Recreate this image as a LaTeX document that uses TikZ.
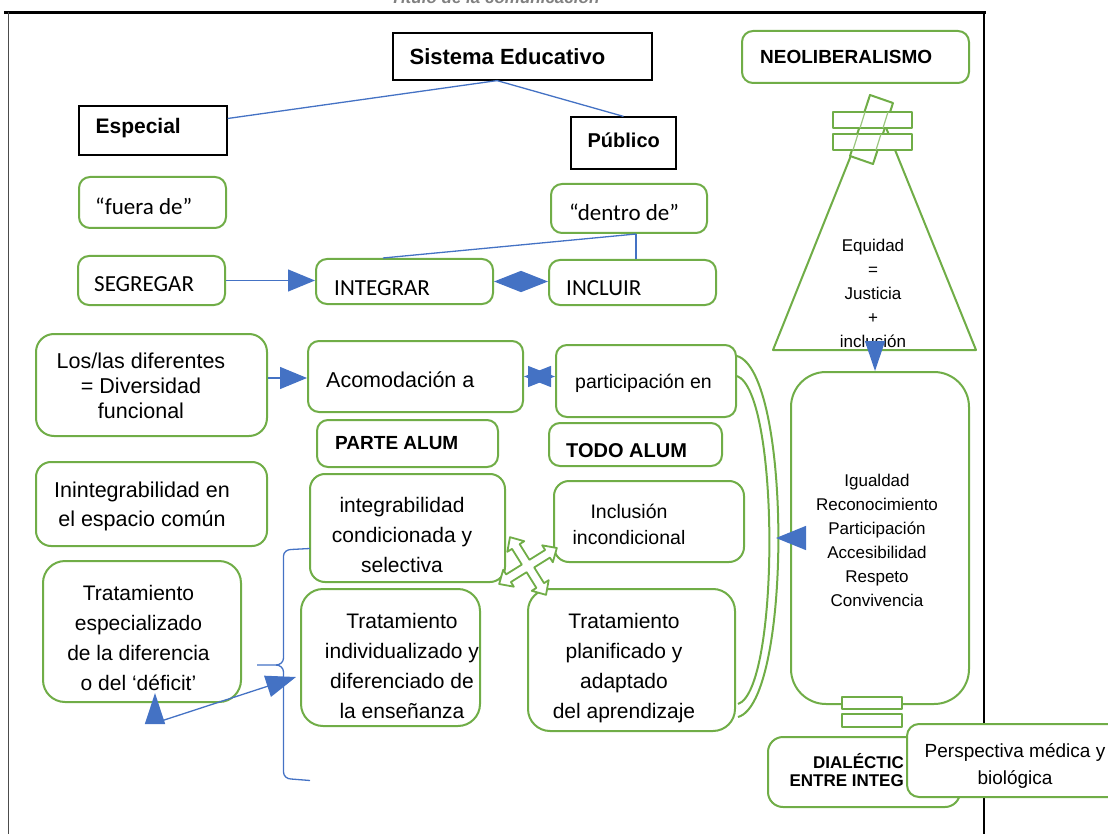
\documentclass[tikz,border=0pt]{standalone}
\usepackage{fontspec}
\setmainfont{Liberation Sans}
\newfontfamily\calib{Carlito}
\usetikzlibrary{arrows.meta}
\definecolor{gline}{HTML}{70AD47}
\definecolor{bluel}{HTML}{4472C4}
\newcommand\fsz[2]{\fontsize{#1pt}{#2pt}\selectfont}
\tikzset{
  gbox/.style={draw=gline, line width=2pt, fill=white, rounded corners=11pt, inner sep=0pt},
  kbox/.style={draw=black, line width=1.2pt, fill=white, inner sep=0pt},
  lt/.style={anchor=west, inner sep=0pt},
  ct/.style={align=center, inner sep=0pt},
  gshape/.style={draw=gline, line width=2pt, fill=white, line join=round},
  bline/.style={draw=bluel, line width=1.3pt},
  barrow/.style={bline, -{Triangle[length=27pt,width=22pt]}},
  dbarrow/.style={bline, {Triangle[length=27pt,width=21pt]}-{Triangle[length=27pt,width=21pt]}}
}

\begin{document}
\begin{tikzpicture}[x=1pt,y=-1pt]
\useasboundingbox (0,0) rectangle (1108,834);
\clip (0,0) rectangle (1108,834);

\node[font=\fsz{17}{20}\bfseries\itshape, text=gray, anchor=base] (titulo) at (495,4) {Título de la comunicación};
\draw[line width=2.4pt] (4,12.5) -- (986,12.5);
\draw[line width=1.3pt, black!70] (8.5,12) -- (8.5,834);
\draw[line width=1.3pt] (984,12) -- (984,834);

% sistema educativo
\node[kbox, minimum width=259, minimum height=47, label={[lt, xshift=17pt, font=\fsz{22}{26}\bfseries]west:{Sistema Educativo}}] (sist) at (522.5,56.5) {};
\node[kbox, minimum width=148, minimum height=49, label={[lt, xshift=17pt, yshift=2pt, font=\fsz{21}{25}\bfseries]west:{Especial}}] (esp) at (153,130.5) {};
\node[kbox, minimum width=105, minimum height=52, label={[lt, xshift=17pt, yshift=3pt, font=\fsz{20}{24}\bfseries]west:{Público}}] (pub) at (623.5,143) {};
\coordinate (sisfoot) at ([xshift=-25.5pt]sist.south);
\draw[bline] (sisfoot) -- ([yshift=12pt]esp.east);
\draw[bline] (sisfoot) -- (pub.north);

\node[gbox, minimum width=227, minimum height=52, label={[lt, xshift=19pt, font=\fsz{19}{23}\bfseries]west:{NEOLIBERALISMO}}] (neo) at (855.5,57) {};

\node[gbox, minimum width=147, minimum height=51, label={[lt, xshift=17pt, yshift=-4pt, font=\fsz{23}{27}\calib]west:{“fuera de”}}] (fuera) at (152.5,202.5) {};
\node[gbox, minimum width=156, minimum height=49, label={[lt, xshift=19pt, yshift=-4pt, font=\fsz{23}{27}\calib]west:{“dentro de”}}] (dentro) at (629,208.5) {};
\node[gbox, minimum width=147, minimum height=49, label={[lt, xshift=17pt, yshift=-4pt, font=\fsz{23}{27}\calib]west:{SEGREGAR}}] (segr) at (151.5,280.5) {};
\node[gbox, minimum width=177, minimum height=45, label={[lt, xshift=19pt, yshift=-7pt, font=\fsz{23}{27}\calib]west:{INTEGRAR}}] (integ) at (404.5,281.5) {};
\node[gbox, minimum width=167, minimum height=45, label={[lt, xshift=18pt, yshift=-6pt, font=\fsz{23}{27}\calib]west:{INCLUIR}}] (incl) at (632.5,282.5) {};
\coordinate (dfoot) at ([xshift=7pt]dentro.south);
\draw[bline] (dfoot) -- (dfoot |- incl.north);
\draw[bline] (dfoot) -- ([xshift=-21.5pt]integ.north);
\draw[barrow] (segr.east) -- (segr.east -| integ.west);
\draw[dbarrow] (integ.east) -- (integ.east -| incl.west);

\node[gbox, rounded corners=18pt, minimum width=231, minimum height=102, label={[ct, xshift=-10.5pt, yshift=-1pt, font=\fsz{21.5}{25}]center:{Los/las diferentes\\= Diversidad\\funcional}}] (losl) at (151.5,385) {};
\node[gbox, minimum width=215, minimum height=71, label={[lt, xshift=19pt, yshift=-3pt, font=\fsz{21.5}{25}]west:{Acomodación a}}] (acom) at (415.5,376.5) {};
\node[gbox, minimum width=180, minimum height=72, label={[lt, xshift=20pt, yshift=-2pt, font=\fsz{19.5}{23}]west:{participación en}}] (part) at (646,381) {};
\draw[barrow] ([yshift=7pt]losl.east) -- ([yshift=7pt]losl.east -| acom.west);
\draw[dbarrow] (acom.east) -- (acom.east -| part.west);

\node[gbox, minimum width=181, minimum height=47, label={[lt, xshift=19pt, font=\fsz{19}{23}\bfseries]west:{PARTE ALUM}}] (parte) at (407.5,443.5) {};
\node[gbox, minimum width=173, minimum height=43, label={[lt, xshift=18pt, yshift=-6pt, font=\fsz{20}{24}\bfseries]west:{TODO ALUM}}] (todo) at (635.5,444.5) {};

\node[gbox, rounded corners=15pt, minimum width=231, minimum height=84, label={[ct, xshift=-9.5pt, yshift=-2pt, font=\fsz{21.5}{29}]center:{Inintegrabilidad en\\el espacio común}}] (inint) at (151.5,504) {};
\node[gbox, rounded corners=15pt, minimum width=195, minimum height=108, label={[ct, xshift=-5.5pt, yshift=-7pt, font=\fsz{21}{30}]center:{integrabilidad\\condicionada y\\selectiva}}] (integr) at (407.5,528) {};
\node[gbox, rounded corners=15pt, minimum width=190, minimum height=81, label={[ct, xshift=-20pt, yshift=-2.5pt, font=\fsz{19.5}{26}]center:{Inclusión\\incondicional}}] (inclu) at (649,521.5) {};
\node[gbox, rounded corners=22pt, minimum width=198, minimum height=141, label={[ct, xshift=-3.5pt, yshift=-6.5pt, font=\fsz{21}{30}]center:{Tratamiento\\especializado\\de la diferencia\\o del ‘déficit’}}] (tsp) at (142,631.5) {};
\node[gbox, rounded corners=22pt, minimum width=179, minimum height=137, label={[ct, xshift=11.5pt, yshift=-8.5pt, font=\fsz{21}{30}]center:{Tratamiento\\individualizado y\\diferenciado de\\la enseñanza}}] (tind) at (390.5,657.5) {};
\node[gbox, rounded corners=22pt, minimum width=207, minimum height=142, label={[ct, xshift=-7.5pt, yshift=-8pt, font=\fsz{21}{30}]center:{Tratamiento\\planificado y\\adaptado\\del aprendizaje}}] (tpla) at (631.5,660) {};

% cruz de flechas
\begin{scope}[shift={(528,566)}, x={(0.848pt,0.530pt)}, y={(0.530pt,-0.848pt)}]
\draw[gshape, line width=1.8pt] (4.5,-4.5) -- (23,-4.5) -- (23,-10) -- (34,0) -- (23,10) -- (23,4.5) -- (4.5,4.5) -- (4.5,23) -- (10,23) -- (0,34) -- (-10,23) -- (-4.5,23) -- (-4.5,4.5) -- (-23,4.5) -- (-23,10) -- (-34,0) -- (-23,-10) -- (-23,-4.5) -- (-4.5,-4.5) -- (-4.5,-23) -- (-10,-23) -- (0,-34) -- (10,-23) -- (4.5,-23) -- cycle;
\end{scope}

\draw[bline] (310,548.5) -- (291,549.5) to[out=180,in=90] (283.5,556) -- (283.5,658) to[out=-90,in=0] (276,665) -- (257,665);
\draw[bline] (276,665) to[out=0,in=90] (283.5,672) -- (283.5,772) to[out=-90,in=180] (291,779) -- (310,780.5);
\coordinate (dfoot2) at (155,723);
\draw[bline, {Triangle[length=31pt,width=20pt]}-{Triangle[length=30pt,width=22pt]}] ([xshift=13pt,yshift=10pt]tsp.south) -- (dfoot2) -- ([xshift=-4pt,yshift=-19.5pt]tind.west);

\draw[gline, line width=2pt] ([yshift=-12pt]part.north east) .. controls (792,372) and (792,702) .. ([xshift=2pt,yshift=15pt]tpla.south east);
\draw[gline, line width=2pt] ([yshift=-32pt]part.north east) .. controls (780,392) and (780,690) .. ([xshift=2pt,yshift=28pt]tpla.south east);

% derecha
\draw[gshape] (874,98) -- (976,350) -- (773,350) -- cycle;
\node[ct, font=\fsz{17}{24}] (equi) at (873,293) {Equidad\\=\\Justicia\\+\\inclusión};
\draw[gshape] (870,95) -- (893,103) -- (873,164) -- (850,156) -- cycle;
\draw[gshape] (833,112) rectangle (912,128);
\draw[gshape] (833,134) rectangle (912,150);
\draw[draw=gline!70, line width=1.2pt] (865,112) -- (860,128) (858,134) -- (853,150) (888,112) -- (883,128) (881,134) -- (876,150);

\node[gbox, rounded corners=35pt, minimum width=178, minimum height=332, label={[ct, xshift=-3pt, yshift=-2.5pt, font=\fsz{17}{24}]center:{Igualdad\\Reconocimiento\\Participación\\Accesibilidad\\Respeto\\Convivencia}}] (igual) at (880,538) {};
\coordinate (trib) at (875,342);
\draw[bline, -{Triangle[length=30pt,width=20pt]}] (trib) -- (trib |- igual.north);
\coordinate (curv) at (776,537);
\draw[bline, -{Triangle[length=30pt,width=24pt]}] ([xshift=15pt]igual.west) -- (igual.west -| curv);

\draw[gshape] (842,697) rectangle (902,709);
\draw[gshape] (842,714) rectangle (902,727);

\node[gbox, rounded corners=15pt, minimum width=192, minimum height=70, label={[ct, align=right, anchor=east, xshift=137pt, yshift=1.5pt, font=\fsz{17}{18}\bfseries]west:{DIALÉCTIC\\ENTRE INTEG}}] (dial) at (864,772) {};
\node[gbox, rounded corners=12pt, minimum width=218, minimum height=73, label={[ct, xshift=-1pt, yshift=-5pt, font=\fsz{19}{27}]center:{Perspectiva médica y\\biológica}}] (persp) at (1016,760.5) {};

\end{tikzpicture}
\end{document}
